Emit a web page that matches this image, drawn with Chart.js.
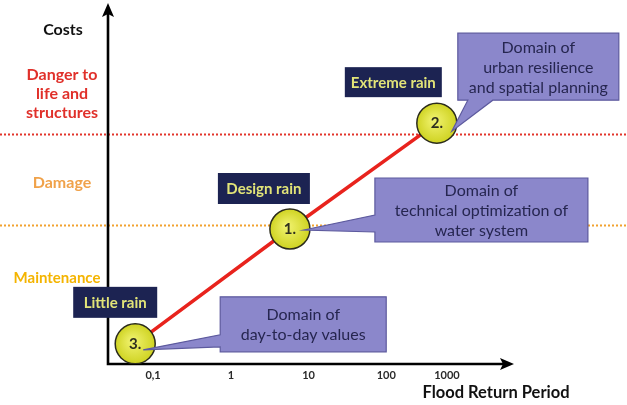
<!DOCTYPE html>
<html>
<head>
<meta charset="utf-8">
<script src="https://cdn.jsdelivr.net/npm/chart.js@4.4.1/dist/chart.umd.min.js"></script>
<style>
  html, body { margin: 0; padding: 0; background: #ffffff; }
  canvas { display: block; }
</style>
</head>
<body>
<canvas id="c" width="627" height="405"></canvas>
<script>
// Rain events placed on a log return-period axis (x = log10 of years)
const returnPeriodLog = [-1.23, 0.76, 2.65];
// Relative cost of each event (0 at the axis, 100 at the arrow tip)
const costLevel = [5.6, 37.5, 66.9];
const pointLabels = ['3.', '1.', '2.'];
const rainTypes = ['Little rain', 'Design rain', 'Extreme rain'];
const domainTexts = [
  ['Domain of', 'day-to-day values'],
  ['Domain of', 'technical optimization of', 'water system'],
  ['Domain of', 'urban resilience', 'and spatial planning']
];

// Return-period ticks
const tickPositions = [-1, 0, 1, 2, 2.78];
const tickLabels = ['0,1', '1', '10', '100', '1000'];

// Cost thresholds between zones: damage starts, danger starts
const thresholdCosts = [38.6, 63.9];
const zoneNames = [['Maintenance'], ['Damage'], ['Danger to', 'life and', 'structures']];

const FONT = 'Lato, "Open Sans", "DejaVu Sans", sans-serif';

// Layout and styling of the drawn annotations (pixel offsets from each event marker)
const style = {
  thresholdColors: ['#f2a22e', '#e2342b'],
  zoneColors: ['#f4b400', '#f0a24a', '#e0302a'],
  zoneLabelY: [278, 183, 75],
  zoneLabelX: [57, 62, 62],
  zoneFontSize: [15, 16, 16],
  rainBoxes: [
    { dx: -62, dy: -57, w: 84, h: 31 },
    { dx: -72, dy: -56, w: 92, h: 31 },
    { dx: -92, dy: -56, w: 97, h: 30 }
  ],
  callouts: [
    { dx: 85, dy: -47, w: 166, h: 55, side: 'left', b0: -9, b1: 3, tx: 8, ty: 6 },
    { dx: 85, dy: -51, w: 213, h: 64, side: 'left', b0: -14, b1: 3, tx: 14, ty: 1 },
    { dx: 21, dy: -90, w: 161, h: 67, side: 'bottom', b0: 31, b1: 56, tx: 15, ty: 8 }
  ]
};

function eventPixels(chart) {
  const xs = chart.scales.x, ys = chart.scales.y;
  return returnPeriodLog.map((v, i) => ({
    x: xs.getPixelForValue(v),
    y: ys.getPixelForValue(costLevel[i])
  }));
}

function calloutPath(ctx, p, c) {
  const x0 = p.x + c.dx, y0 = p.y + c.dy, x1 = x0 + c.w, y1 = y0 + c.h;
  const tx = p.x + c.tx, ty = p.y + c.ty;
  ctx.beginPath();
  if (c.side === 'left') {
    ctx.moveTo(x0, y0);
    ctx.lineTo(x1, y0);
    ctx.lineTo(x1, y1);
    ctx.lineTo(x0, y1);
    ctx.lineTo(x0, p.y + c.b1);
    ctx.lineTo(tx, ty);
    ctx.lineTo(x0, p.y + c.b0);
    ctx.closePath();
  } else {
    ctx.moveTo(x0, y0);
    ctx.lineTo(x1, y0);
    ctx.lineTo(x1, y1);
    ctx.lineTo(p.x + c.b1, y1);
    ctx.lineTo(tx, ty);
    ctx.lineTo(p.x + c.b0, y1);
    ctx.lineTo(x0, y1);
    ctx.closePath();
  }
}

const diagramPlugin = {
  id: 'diagram',
  beforeDatasetsDraw(chart) {
    const ctx = chart.ctx, area = chart.chartArea, ys = chart.scales.y;
    ctx.save();
    // zone thresholds across the full width
    thresholdCosts.forEach((v, i) => {
      const y = Math.round(ys.getPixelForValue(v)) + 0.5;
      ctx.strokeStyle = style.thresholdColors[i];
      ctx.lineWidth = 2;
      ctx.setLineDash([2, 2]);
      ctx.beginPath();
      ctx.moveTo(0, y);
      ctx.lineTo(chart.width, y);
      ctx.stroke();
    });
    ctx.setLineDash([]);

    // axes with arrowheads
    const ax = area.left, ay = area.bottom;
    ctx.strokeStyle = '#000';
    ctx.fillStyle = '#000';
    ctx.lineWidth = 2.6;
    ctx.beginPath();
    ctx.moveTo(ax, ay + 1.3);
    ctx.lineTo(ax, area.top + 10);
    ctx.moveTo(ax - 1.3, ay);
    ctx.lineTo(area.right - 10, ay);
    ctx.stroke();
    ctx.beginPath();
    ctx.moveTo(ax, area.top - 1);
    ctx.lineTo(ax + 6, area.top + 13);
    ctx.lineTo(ax, area.top + 10);
    ctx.lineTo(ax - 6, area.top + 13);
    ctx.closePath();
    ctx.fill();
    ctx.beginPath();
    ctx.moveTo(area.right + 1, ay);
    ctx.lineTo(area.right - 13, ay - 6);
    ctx.lineTo(area.right - 10, ay);
    ctx.lineTo(area.right - 13, ay + 6);
    ctx.closePath();
    ctx.fill();

    // axis titles
    ctx.textAlign = 'center';
    ctx.textBaseline = 'middle';
    ctx.font = 'bold 16px ' + FONT;
    ctx.fillStyle = '#111';
    ctx.fillText('Costs', 63, 30);
    ctx.font = 'bold 16.5px ' + FONT;
    ctx.fillText('Flood Return Period', 496, 393);

    // zone names on the left
    zoneNames.forEach((lines, i) => {
      ctx.fillStyle = style.zoneColors[i];
      ctx.font = 'bold ' + style.zoneFontSize[i] + 'px ' + FONT;
      lines.forEach((t, k) => ctx.fillText(t, style.zoneLabelX[i], style.zoneLabelY[i] + k * 19));
    });
    ctx.restore();
  },
  afterDatasetsDraw(chart) {
    const ctx = chart.ctx;
    const pts = eventPixels(chart);
    ctx.save();
    ctx.textAlign = 'center';
    ctx.textBaseline = 'middle';

    // numbers inside the markers
    ctx.font = 'bold 15px ' + FONT;
    ctx.fillStyle = '#2e2e1e';
    pts.forEach((p, i) => ctx.fillText(pointLabels[i], p.x, p.y));

    // rain type labels
    pts.forEach((p, i) => {
      const b = style.rainBoxes[i];
      const x = p.x + b.dx, y = p.y + b.dy;
      ctx.fillStyle = '#1c2352';
      ctx.fillRect(x, y, b.w, b.h);
      ctx.font = 'bold 15px ' + FONT;
      ctx.fillStyle = '#e2e478';
      ctx.fillText(rainTypes[i], x + b.w / 2, y + b.h / 2 + 1);
    });

    // domain callouts
    pts.forEach((p, i) => {
      const c = style.callouts[i];
      calloutPath(ctx, p, c);
      ctx.fillStyle = '#8b87cb';
      ctx.fill();
      ctx.strokeStyle = '#5d5a9e';
      ctx.lineWidth = 1.2;
      ctx.stroke();
      const lines = domainTexts[i];
      const cx = p.x + c.dx + c.w / 2;
      const cy = p.y + c.dy + c.h / 2 + 1;
      ctx.font = '16px ' + FONT;
      ctx.fillStyle = '#262650';
      lines.forEach((t, k) => ctx.fillText(t, cx, cy + (k - (lines.length - 1) / 2) * 20));
    });
    ctx.restore();
  }
};

const points = returnPeriodLog.map((v, i) => ({ x: v, y: costLevel[i] }));

new Chart(document.getElementById('c'), {
  type: 'scatter',
  data: {
    datasets: [
      {
        label: 'events',
        data: points,
        order: 0,
        showLine: false,
        pointRadius: 20,
        pointBorderWidth: 1.5,
        pointBorderColor: '#2b2b1c',
        pointBackgroundColor(ctx) {
          const chart = ctx.chart;
          if (!chart.chartArea || ctx.parsed === undefined) return '#d9dc2e';
          const px = chart.scales.x.getPixelForValue(ctx.parsed.x);
          const py = chart.scales.y.getPixelForValue(ctx.parsed.y);
          const g = chart.ctx.createRadialGradient(px - 3, py - 3, 2, px, py, 20);
          g.addColorStop(0, '#eef06a');
          g.addColorStop(1, '#cfd322');
          return g;
        }
      },
      {
        label: 'cost curve',
        data: points,
        order: 1,
        showLine: true,
        borderColor: '#e8231d',
        borderWidth: 3.5,
        pointRadius: 0,
        tension: 0
      }
    ]
  },
  options: {
    responsive: false,
    animation: false,
    events: [],
    devicePixelRatio: 1,
    layout: { autoPadding: false, padding: { left: 108, right: 114, top: 4, bottom: 0 } },
    plugins: { legend: { display: false }, tooltip: { enabled: false } },
    scales: {
      x: {
        type: 'linear',
        min: -1.58,
        max: 3.63,
        grid: { display: false, drawTicks: false },
        border: { display: false },
        afterBuildTicks(scale) {
          scale.ticks = tickPositions.map(v => ({ value: v }));
        },
        afterFit(scale) { scale.height = 41; },
        ticks: {
          autoSkip: false,
          maxRotation: 0,
          padding: 5,
          color: '#2a2a2a',
          font: { family: FONT, size: 11, weight: 'bold' },
          callback(value, index) { return tickLabels[index]; }
        }
      },
      y: {
        type: 'linear',
        min: 0,
        max: 100,
        display: false
      }
    }
  },
  plugins: [diagramPlugin]
});
</script>
</body>
</html>
